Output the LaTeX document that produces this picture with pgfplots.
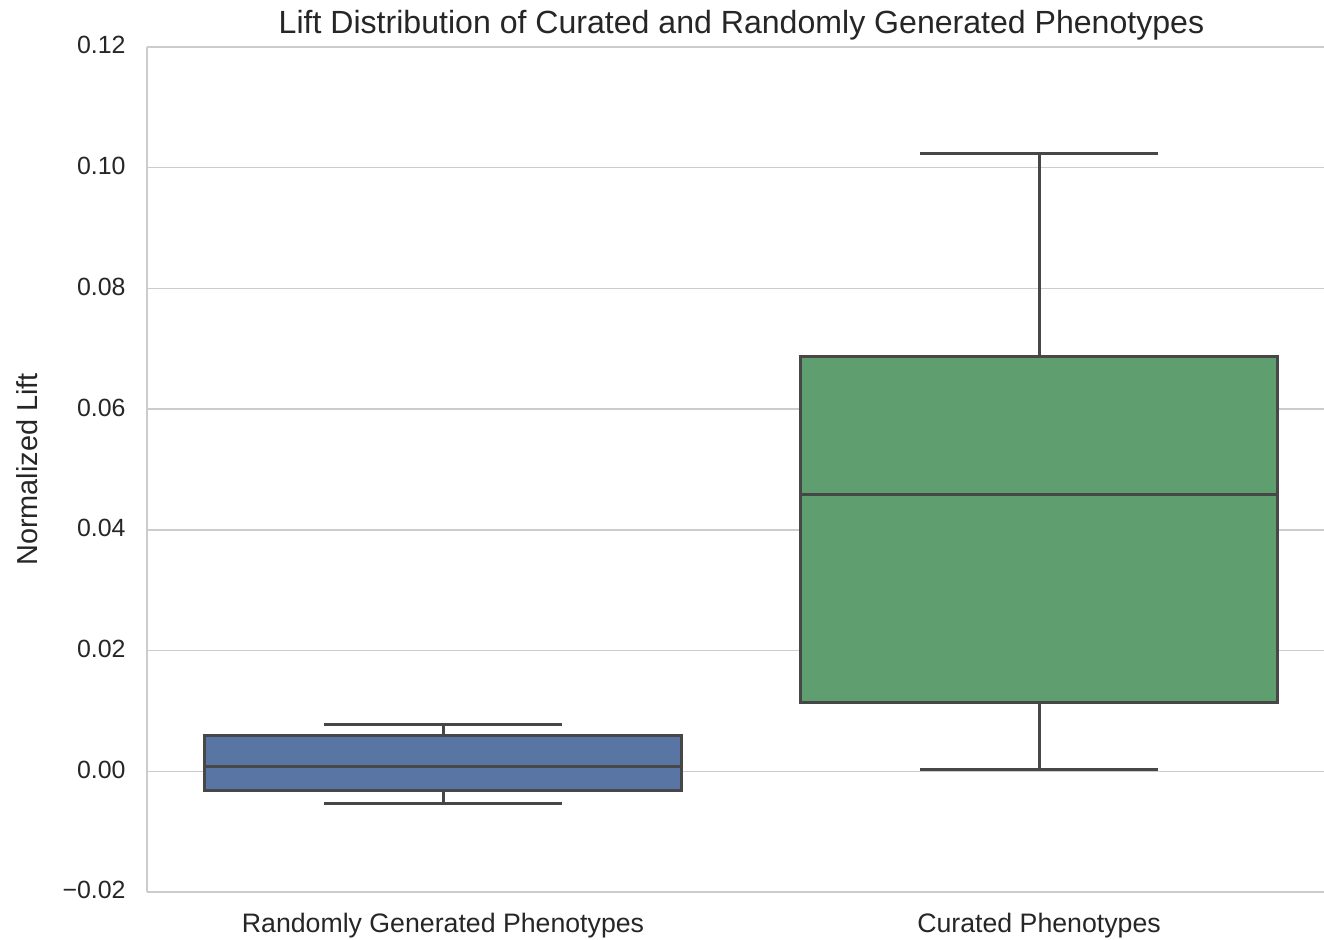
\documentclass[border=0pt]{standalone}
\usepackage{fontspec}
\setmainfont{Liberation Sans}
\usepackage{pgfplots}
\pgfplotsset{compat=1.18}
\usepgfplotslibrary{statistics}
\definecolor{boxblue}{HTML}{5875A4}
\definecolor{boxgreen}{HTML}{5F9E6E}
\definecolor{linegray}{rgb}{0.28,0.28,0.28}
\definecolor{gridgray}{rgb}{0.8,0.8,0.8}
\definecolor{textgray}{rgb}{0.15,0.15,0.15}
\begin{document}
\begin{tikzpicture}
\begin{axis}[
  name=ax,
  scale only axis,
  width=588.5bp, height=422.5bp,
  xmin=-0.4966, xmax=1.478,
  ymin=-0.02, ymax=0.12,
  axis x line*=box, axis y line*=left,
  axis line style={draw=gridgray, line width=0.75bp, -},
  major tick length=0pt,
  xtick={0,1},
  xticklabels={Randomly Generated Phenotypes, Curated Phenotypes},
  ytick={-0.02,0,0.02,0.04,0.06,0.08,0.10,0.12},
  yticklabels={−0.02,0.00,0.02,0.04,0.06,0.08,0.10,0.12},
  ymajorgrids,
  xmajorgrids=false,
  grid style={draw=gridgray, line width=0.75bp},
  tick label style={text=textgray, inner sep=0pt},
  yticklabel style={font=\fontsize{12.5}{15}\selectfont, anchor=east, xshift=-10.5bp, yshift=0.8bp},
  xticklabel style={font=\fontsize{13.4}{16}\selectfont, anchor=north, yshift=-10.5bp},
  title={Lift Distribution of Curated and Randomly Generated Phenotypes},
  title style={at={(axis description cs:0.5051,1)}, anchor=base, yshift=1bp, inner sep=0pt, font=\fontsize{16.1}{19}\selectfont, text=textgray},
  ylabel={Normalized Lift},
  ylabel style={at={(axis description cs:-0.0926,0.5)}, anchor=south, inner sep=0pt, font=\fontsize{14.5}{17}\selectfont, text=textgray},
  boxplot/draw direction=y,
  boxplot/box extend=0.8,
  boxplot/whisker extend=0.4,
]
\addplot[boxplot prepared={draw position=0,
    median=0.0008, upper quartile=0.0060, lower quartile=-0.0032,
    upper whisker=0.0078, lower whisker=-0.0053},
  draw=linegray, line width=1.5bp,
  boxplot/every box/.style={fill=boxblue, draw=linegray, line width=1.5bp}]
  coordinates {};
\addplot[boxplot prepared={draw position=1,
    median=0.0458, upper quartile=0.0687, lower quartile=0.0114,
    upper whisker=0.1023, lower whisker=0.0003},
  draw=linegray, line width=1.5bp,
  boxplot/every box/.style={fill=boxgreen, draw=linegray, line width=1.5bp}]
  coordinates {};
\end{axis}
\pgfresetboundingbox
\path[use as bounding box] ([xshift=-73.5bp,yshift=-24bp]ax.south west) rectangle ([yshift=23.5bp]ax.north east);
\end{tikzpicture}
\end{document}
